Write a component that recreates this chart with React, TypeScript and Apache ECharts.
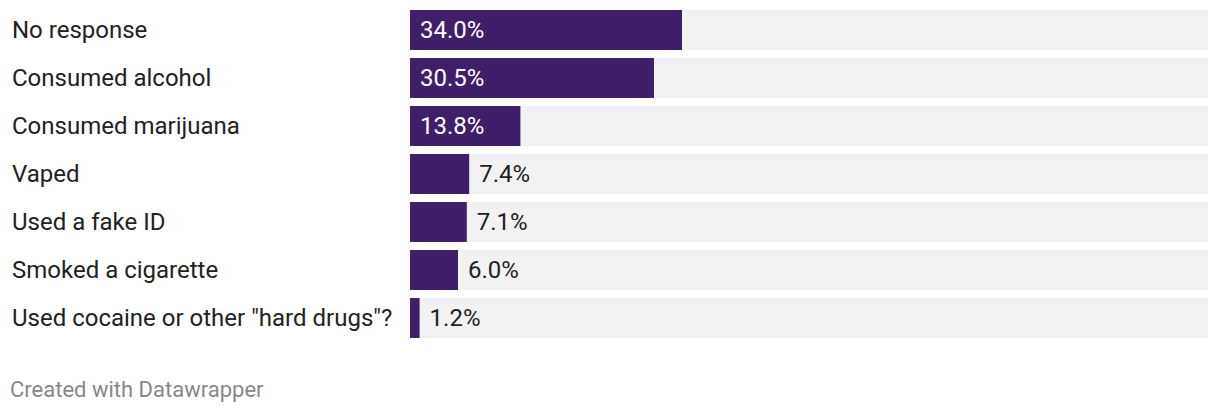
import React, { useEffect, useRef } from "react";
import * as echarts from "echarts";

const categories = [
  "No response",
  "Consumed alcohol",
  "Consumed marijuana",
  "Vaped",
  "Used a fake ID",
  "Smoked a cigarette",
  'Used cocaine or other "hard drugs"?',
];
const values = [34.0, 30.5, 13.8, 7.4, 7.1, 6.0, 1.2];
const insideThreshold = 10;

export default function App() {
  const ref = useRef<HTMLDivElement>(null);
  useEffect(() => {
    document.body.style.margin = "0";
    const chart = echarts.init(ref.current!, null, { renderer: "svg" });
    const font = "Roboto, 'Noto Sans', sans-serif";
    chart.setOption({
      animation: false,
      grid: { left: 410, top: 6, width: 798, height: 336, containLabel: false },
      xAxis: { type: "value", min: 0, max: 99.75, show: false },
      yAxis: {
        type: "category",
        data: categories,
        inverse: true,
        axisLine: { show: false },
        axisTick: { show: false },
        axisLabel: {
          align: "left",
          margin: 398,
          fontSize: 24,
          color: "#222222",
          fontFamily: font,
        },
      },
      series: [
        {
          type: "bar",
          barWidth: 40,
          showBackground: true,
          backgroundStyle: { color: "#f2f2f2" },
          itemStyle: { color: "#3f1f69" },
          data: values.map((v) => ({
            value: v,
            label: {
              show: true,
              position: v >= insideThreshold ? "insideLeft" : "right",
              distance: 10,
              color: v >= insideThreshold ? "#ffffff" : "#222222",
              fontSize: 24,
              fontFamily: font,
              formatter: (p: any) => p.value.toFixed(1) + "%",
            },
          })),
        },
      ],
      graphic: [
        {
          type: "text",
          left: 10,
          top: 378,
          style: {
            text: "Created with Datawrapper",
            fontSize: 22,
            fontFamily: font,
            fill: "#888888",
          },
        },
      ],
    });
    return () => chart.dispose();
  }, []);
  return <div ref={ref} style={{ width: 1220, height: 414 }} />;
}
